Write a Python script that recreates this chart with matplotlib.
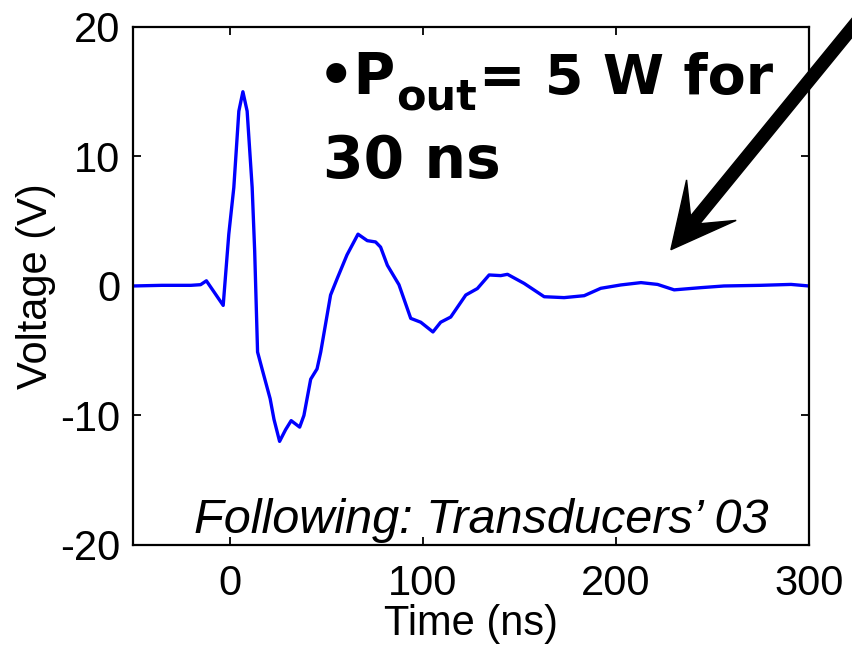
import numpy as np
import matplotlib.pyplot as plt
from matplotlib.patches import FancyArrow
from matplotlib.transforms import IdentityTransform

# pulse waveform (ns, V)
t_ns = [-50, -35, -20, -15, -12, -8.1, -3.3, -0.4, 2.2, 4.8, 6.9, 9.1, 11.7,
        13.0, 14.0, 14.5, 17.0, 21.0, 23.0, 25.9, 29.0, 31.9, 36.3, 38.5,
        42.0, 45.3, 47.2, 52.3, 55.8, 60.8, 66.5, 71.3, 75.6, 78.2, 81.7,
        87.7, 93.8, 99.0, 105.3, 109.3, 114.5, 122.3, 128.3, 134.4, 140.4,
        143.9, 152.5, 162.9, 173.2, 183.6, 192.2, 202.6, 213.0, 221.6, 230.2,
        244.0, 256.0, 275.0, 290.7, 300.0]
volts = [0.0, 0.05, 0.05, 0.1, 0.4, -0.45, -1.5, 4.0, 7.6, 13.5, 15.0, 13.5, 7.6,
         2.7, -2.5, -5.1, -6.5, -8.7, -10.3, -12.0, -11.1, -10.4, -10.9, -10.0,
         -7.2, -6.4, -5.1, -0.7, 0.6, 2.4, 4.0, 3.5, 3.4, 3.0, 1.6,
         0.1, -2.5, -2.8, -3.55, -2.8, -2.4, -0.7, -0.2, 0.85, 0.8,
         0.9, 0.2, -0.83, -0.9, -0.75, -0.18, 0.08, 0.26, 0.12, -0.3,
         -0.13, 0.0, 0.05, 0.12, 0.0]

x_ticks = [0, 100, 200, 300]
y_ticks = [-20, -10, 0, 10, 20]

plt.rcParams['font.family'] = 'Liberation Sans'
plt.rcParams['axes.unicode_minus'] = False

fig = plt.figure(figsize=(8.52, 6.47), dpi=100)
ax = fig.add_axes([0.1561, 0.1577, 0.7934, 0.8006])

ax.plot(t_ns, volts, color='#0000ff', lw=2.4)
ax.set_xlim(-50, 300)
ax.set_ylim(-20, 20)
ax.set_xticks(x_ticks)
ax.set_yticks(y_ticks)
ax.tick_params(direction='in', length=6, width=1.3, labelsize=30,
               top=True, right=True, pad=9)
ax.tick_params(axis='x', pad=14)
for s in ax.spines.values():
    s.set_linewidth(1.6)
ax.set_xlabel('Time (ns)', fontsize=30, labelpad=0)
ax.set_ylabel('Voltage (V)', fontsize=30, labelpad=3)

# bold note: bullet + P, subscript, rest of the line
bold = dict(fontweight='bold', family='DejaVu Sans', annotation_clip=False)
p1 = ax.annotate('•P', xy=(45.5, 14.85), xycoords='data', fontsize=41,
                 ha='left', va='baseline', **bold)
p2 = ax.annotate('out', xy=(1, 0), xycoords=p1, xytext=(0, -9),
                 textcoords='offset points', fontsize=31,
                 ha='left', va='bottom', **bold)
p3 = ax.annotate('= 5 W for', xy=(1, 0), xycoords=(p2, p1), xytext=(2, 0),
                 textcoords='offset points', fontsize=40,
                 ha='left', va='bottom', **bold)
ax.text(48.5, 8.3, '30 ns', fontsize=42, fontweight='bold',
        family='DejaVu Sans', ha='left', va='baseline')
ax.text(279, -19.1, 'Following: Transducers\u2019 03', fontsize=35,
        style='italic', ha='right', va='baseline')

# arrow pointing at the ringing tail, in pixel space
fig.canvas.draw()
tip = ax.transData.transform((228.5, 2.8))
tail = ax.transData.transform((335, 22.25))
d = tip - tail
arr = FancyArrow(tail[0], tail[1], d[0], d[1], width=12, head_width=64,
                 head_length=64, overhang=0.4, length_includes_head=True,
                 color='black', transform=IdentityTransform())
fig.add_artist(arr)

fig.savefig('out.png', dpi=100)
